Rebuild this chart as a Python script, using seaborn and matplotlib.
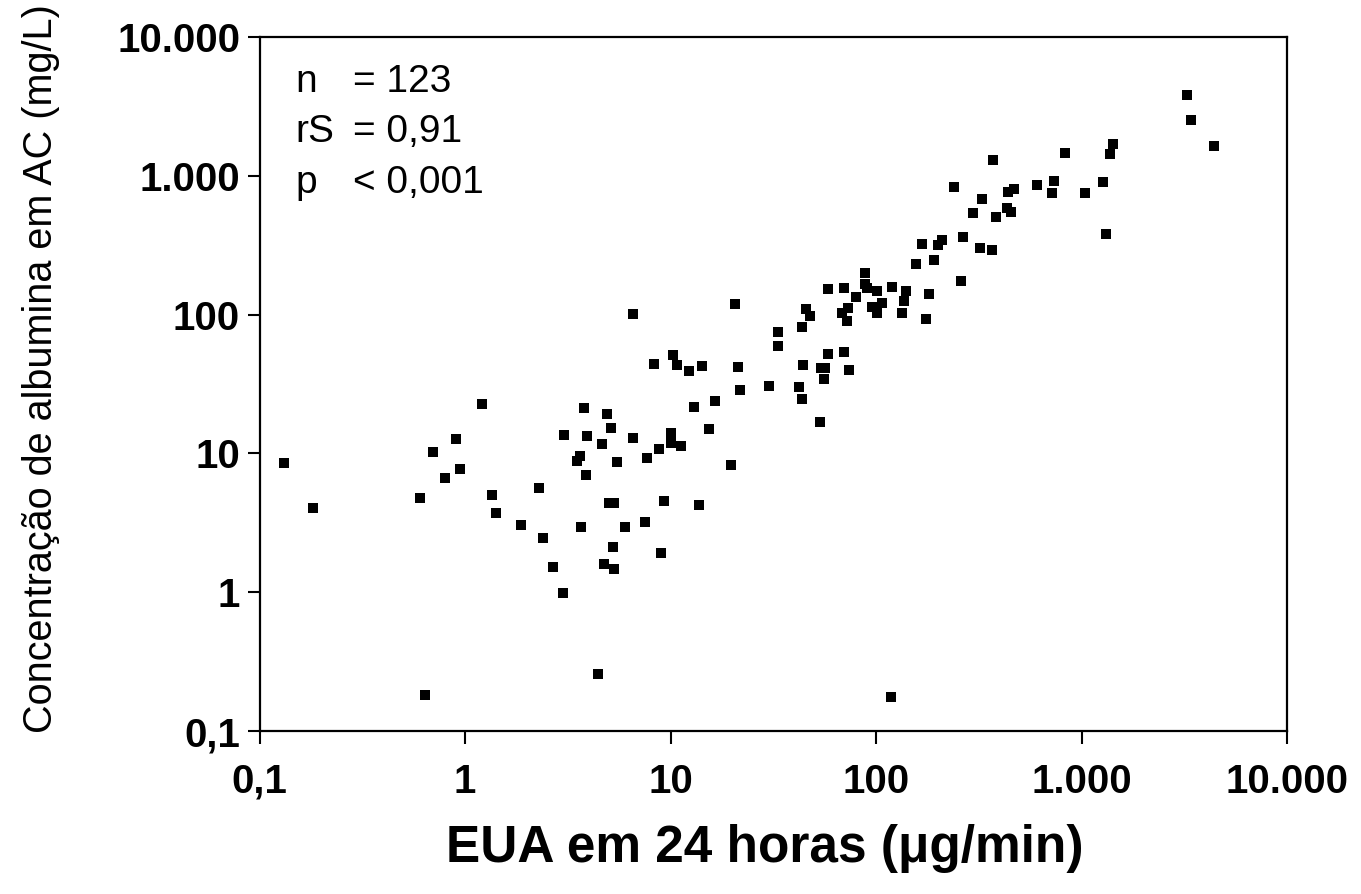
import matplotlib
matplotlib.use("Agg")
import matplotlib.pyplot as plt
from matplotlib.ticker import FixedLocator, FixedFormatter, NullLocator
import pandas as pd
import seaborn as sns

# ============================================================================
# DATA
# ============================================================================

# EUA em 24 horas (ug/min)
eua = [
    0.132, 0.183, 1.21, 0.90, 0.70, 0.95, 0.80, 0.605, 3.02, 2.30, 1.36, 1.41,
    1.87, 2.39, 2.67, 2.98, 0.64,
    6.54, 20.6, 45.8, 43.4, 33.2, 33.4, 10.3, 8.35, 10.7, 12.3, 14.2, 21.4,
    43.9, 21.8, 30.1, 42.0, 43.6, 3.78, 4.89, 13.0, 16.5, 5.14, 3.92, 4.66,
    6.60, 10.1, 10.1, 11.3, 15.4, 8.80, 7.69, 3.64, 3.52, 5.50, 19.6, 3.86,
    5.00, 5.33, 9.27, 13.7, 3.67, 6.03, 7.52, 5.23, 9.00, 4.73, 5.33, 4.46,
    370, 240, 327, 439, 468, 297, 384, 433, 454, 265, 168, 201, 209, 321, 367,
    157, 191, 258, 88.7, 58.1, 69.6, 88.3, 90.0, 79.6, 101, 120, 140, 180,
    107, 95.9, 101, 137, 134, 175, 72.7, 68.0, 72.2, 47.5, 58.1, 69.8, 53.7,
    56.4, 73.8, 55.5, 53.3,
    3248, 3419, 4411, 1421, 1369, 829, 1266, 1038, 1313, 731, 714, 604, 118,
]

# Concentracao de albumina em AC (mg/L)
albumina = [
    8.5, 4.05, 22.7, 12.7, 10.3, 7.75, 6.7, 4.74, 13.5, 5.63, 5.02, 3.73,
    3.05, 2.45, 1.51, 0.99, 0.181,
    101.8, 120, 110, 81.6, 74.7, 59.0, 50.8, 44.2, 43.3, 39.2, 42.4, 41.7,
    43.1, 28.8, 30.4, 30.2, 24.5, 21.4, 19.3, 21.6, 23.8, 15.3, 13.4, 11.7,
    13.0, 14.1, 11.9, 11.3, 15.0, 10.7, 9.34, 9.61, 8.85, 8.74, 8.32, 6.94,
    4.37, 4.37, 4.56, 4.27, 2.97, 2.94, 3.19, 2.11, 1.92, 1.61, 1.48, 0.256,
    1301, 836, 678, 770, 805, 538, 501, 591, 553, 361, 322, 320, 345, 301, 294,
    233, 246, 175, 201, 153, 156, 166, 155, 133, 147, 158, 147, 140,
    121, 114, 102, 125, 102, 92.7, 111, 102, 89.7, 97.4, 52.2, 54.0, 41.4,
    41.4, 40.1, 34.2, 16.9,
    3831, 2533, 1640, 1695, 1437, 1468, 904, 757, 382, 913, 754, 860, 0.175,
]

tick_values = [0.1, 1, 10, 100, 1000, 10000]
tick_labels = ["0,1", "1", "10", "100", "1.000", "10.000"]

stat_names = ["n", "rS", "p"]
stat_values = ["= 123", "= 0,91", "< 0,001"]

df = pd.DataFrame({"eua": eua, "albumina": albumina})

# ============================================================================
# PLOT
# ============================================================================

sns.set_style("ticks")
plt.rcParams["font.family"] = ["Liberation Sans", "DejaVu Sans"]
plt.rcParams["text.color"] = "black"
plt.rcParams["axes.labelcolor"] = "black"

fig = plt.figure(figsize=(13.61, 8.94), dpi=100)
ax = fig.add_axes([0.1907, 0.1823, 0.755, 0.7763])

sns.scatterplot(data=df, x="eua", y="albumina", marker="s", s=50,
                color="black", edgecolor="black", linewidth=0, ax=ax)

ax.set_xscale("log")
ax.set_yscale("log")
ax.set_xlim(0.1, 10000)
ax.set_ylim(0.1, 10000)

for axis in (ax.xaxis, ax.yaxis):
    axis.set_major_locator(FixedLocator(tick_values))
    axis.set_major_formatter(FixedFormatter(tick_labels))
    axis.set_minor_locator(NullLocator())

for sp in ax.spines.values():
    sp.set_visible(True)
    sp.set_linewidth(1.6)
    sp.set_color("black")

ax.tick_params(axis="both", direction="out", length=9, width=1.5,
               colors="black", labelcolor="black", labelsize=29)
ax.tick_params(axis="x", pad=14)
ax.tick_params(axis="y", pad=5)
for lab in ax.get_xticklabels() + ax.get_yticklabels():
    lab.set_fontweight("bold")

ax.set_xlabel("EUA em 24 horas (\u03bcg/min)", fontsize=37, fontweight="bold",
              color="black")
ax.xaxis.label.set_va("baseline")
ax.xaxis.set_label_coords(0.492, -0.189)

ax.set_ylabel("Concentra\u00e7\u00e3o de albumina em AC (mg/L)", fontsize=28.5,
              color="black")
ax.yaxis.label.set_va("center")
ax.yaxis.set_label_coords(-0.213, 0.522)

# statistics block, two aligned columns
for i, (name, val) in enumerate(zip(stat_names, stat_values)):
    y = 0.935 - i * 0.0725
    ax.text(0.0345, y, name, transform=ax.transAxes, fontsize=28,
            va="center", color="black")
    ax.text(0.091, y, val, transform=ax.transAxes, fontsize=28,
            va="center", color="black")

fig.savefig("out.png", dpi=100, facecolor="white")
